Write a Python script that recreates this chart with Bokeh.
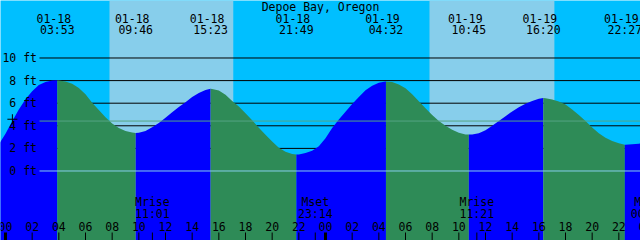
from bokeh.plotting import figure
from bokeh.models import Range1d
from bokeh.embed import file_html
from bokeh.resources import INLINE
from bokeh.core.properties import value

TITLE = "Depoe Bay, Oregon"

# High / low tide events (date, time, height in ft)
event_date = ["01-18", "01-18", "01-18", "01-18", "01-19", "01-19", "01-19", "01-19"]
event_time = ["03:53", "09:46", "15:23", "21:49", "04:32", "10:45", "16:20", "22:27"]
event_ft = [8.02, 3.36, 7.27, 1.45, 7.93, 3.22, 6.45, 2.32]

# Tide level every half hour, starting 01-17 23:30 (ft)
tide_start_hour = -0.5
tide_step_hour = 0.5
tide_ft = [
    2.35, 3.30, 4.40, 5.45, 6.35, 7.05, 7.60, 7.88, 8.00, 8.01, 7.93, 7.72,
    7.35, 6.80, 6.05, 5.40, 4.75, 4.20, 3.80, 3.55, 3.40, 3.38, 3.55, 3.88,
    4.25, 4.72, 5.20, 5.67, 6.08, 6.55, 6.90, 7.17, 7.25, 7.12, 6.75, 6.20,
    5.70, 5.12, 4.50, 3.82, 3.20, 2.60, 2.05, 1.70, 1.50, 1.47, 1.60, 1.80,
    2.20, 2.90, 3.80, 4.55, 5.25, 5.92, 6.55, 7.15, 7.55, 7.80, 7.93, 7.87,
    7.65, 7.32, 6.80, 6.18, 5.55, 4.95, 4.42, 4.00, 3.65, 3.38, 3.24, 3.24,
    3.35, 3.60, 4.00, 4.42, 4.85, 5.27, 5.65, 5.95, 6.20, 6.40, 6.44, 6.33,
    6.15, 5.88, 5.45, 4.95, 4.42, 3.85, 3.35, 2.95, 2.65, 2.45, 2.32, 2.36,
    2.42, 2.50,
]

# Sun (daylight bands)
sunrise_date = ["01-18", "01-19"]
sunrise_time = ["07:48", "07:48"]
sunset_time = ["17:05", "17:10"]

# Moon events
moon_event = ["Mrise", "Mset", "Mrise", "Mset"]
moon_date = ["01-18", "01-18", "01-19", "01-20"]
moon_time = ["11:01", "23:14", "11:21", "00:12"]

# Levels
level_ft = [0, 2, 4, 6, 8, 10]
level_labels = ["0 ft", "2 ft", "4 ft", "6 ft", "8 ft", "10 ft"]
mean_ft = 4.42

# Current-time mark
now_time = "00:31"
now_ft = 4.58

# Hour ticks
tick_hour = list(range(0, 49, 2))
tick_labels = ["%02d" % (h % 24) for h in tick_hour]

# ---------------------------------------------------------------
W, H = 640, 240
X_LEFT, X_RIGHT = -0.375, 47.625
Y_TOP = 15.088
Y_BOT = Y_TOP - H / 11.3


def xdat(px):
    return X_LEFT + px * (X_RIGHT - X_LEFT) / W


def ydat(py):
    return Y_TOP - py * (Y_TOP - Y_BOT) / H


def hours(date, hm):
    day = int(date.split("-")[1]) - 18
    hh, mm = (int(v) for v in hm.split(":"))
    return day * 24 + hh + mm / 60.0


FONT = value("DejaVu Sans Mono")
FS = "11.5px"
SKY = "#00BFFF"
DAY = "#87CEEB"
RISE = "#0000FF"
FALL = "#2E8B57"

p = figure(width=W, height=H, output_backend="svg", toolbar_location=None,
           x_range=Range1d(X_LEFT, X_RIGHT), y_range=Range1d(Y_BOT, Y_TOP),
           min_border=0, x_axis_location=None, y_axis_location=None)
p.grid.visible = False
p.outline_line_color = None
p.background_fill_color = SKY
p.border_fill_color = SKY

# daylight bands
sr = [hours(d, t) for d, t in zip(sunrise_date, sunrise_time)]
ss = [hours(d, t) for d, t in zip(sunrise_date, sunset_time)]
p.quad(left=sr, right=ss, bottom=Y_BOT, top=Y_TOP, fill_color=DAY, line_color=None)

# black level lines (behind water)
line_x0 = xdat(39)
blk = [v for v in level_ft if v != 0]
p.segment(x0=[line_x0] * len(blk), x1=[X_RIGHT] * len(blk), y0=blk, y1=blk,
          line_color="black", line_width=1)

# water curve, coloured by rising / falling
ev_hour = [hours(d, t) for d, t in zip(event_date, event_time)]
samp_hour = [tide_start_hour + tide_step_hour * i for i in range(len(tide_ft))]
pts = sorted(list(zip(samp_hour, tide_ft)) + list(zip(ev_hour, event_ft)))
bounds = [samp_hour[0]] + ev_hour + [samp_hour[-1]]
for a, b in zip(bounds[:-1], bounds[1:]):
    seg = [(h, v) for h, v in pts if a - 1e-9 <= h <= b + 1e-9]
    xs = [h for h, v in seg]
    ys = [v for h, v in seg]
    col = RISE if ys[-1] > ys[0] else FALL
    p.varea(x=xs, y1=[Y_BOT] * len(xs), y2=ys, fill_color=col)

# 0 ft and mean lines (on top)
p.segment(x0=[line_x0], x1=[X_RIGHT], y0=[0], y1=[0], line_color=DAY, line_width=1)
p.segment(x0=[line_x0], x1=[X_RIGHT], y0=[mean_ft], y1=[mean_ft],
          line_color="#55A584", line_width=1)

# current time mark
p.scatter(x=[hours("01-18", now_time)], y=[now_ft], marker="cross", size=10,
          line_color="black", line_width=1)

# level labels
p.text(x=[xdat(36.5)] * len(level_ft), y=level_ft, text=level_labels,
       text_font=FONT, text_font_size=FS, text_align="right",
       text_baseline="middle", text_color="black")

# title
p.text(x=[xdat(320)], y=[ydat(6)], text=[TITLE], text_font=FONT, text_font_size=FS,
       text_align="center", text_baseline="middle", text_color="black")

# event labels
n = len(ev_hour)
p.text(x=ev_hour, y=[ydat(17.5)] * n, text=event_date, x_offset=-3.5,
       text_font=FONT, text_font_size=FS, text_align="center",
       text_baseline="middle", text_color="black")
p.text(x=ev_hour, y=[ydat(29.5)] * n, text=event_time,
       text_font=FONT, text_font_size=FS, text_align="center",
       text_baseline="middle", text_color="black")

# moon labels and ticks
mh = [hours(d, t) for d, t in zip(moon_date, moon_time)]
m = len(mh)
p.text(x=mh, y=[ydat(201.5)] * m, text=moon_event, text_font=FONT, text_font_size=FS,
       text_align="center", text_baseline="middle", text_color="black")
p.text(x=mh, y=[ydat(213.5)] * m, text=moon_time, text_font=FONT, text_font_size=FS,
       text_align="center", text_baseline="middle", text_color="black")
p.segment(x0=mh, x1=mh, y0=[ydat(232)] * m, y1=[Y_BOT] * m, line_color="black", line_width=1)

# hour ticks and labels
k = len(tick_hour)
p.text(x=tick_hour, y=[ydat(226)] * k, text=tick_labels, text_font=FONT, text_font_size=FS,
       text_align="center", text_baseline="middle", text_color="black")
thin = [h for h in tick_hour if h % 24 != 0]
thick = [h for h in tick_hour if h % 24 == 0]
p.segment(x0=thin, x1=thin, y0=[ydat(232)] * len(thin), y1=[Y_BOT] * len(thin),
          line_color="black", line_width=1)
p.segment(x0=thick, x1=thick, y0=[ydat(232)] * len(thick), y1=[Y_BOT] * len(thick),
          line_color="black", line_width=3)

open("out.html", "w").write(file_html(p, INLINE))
